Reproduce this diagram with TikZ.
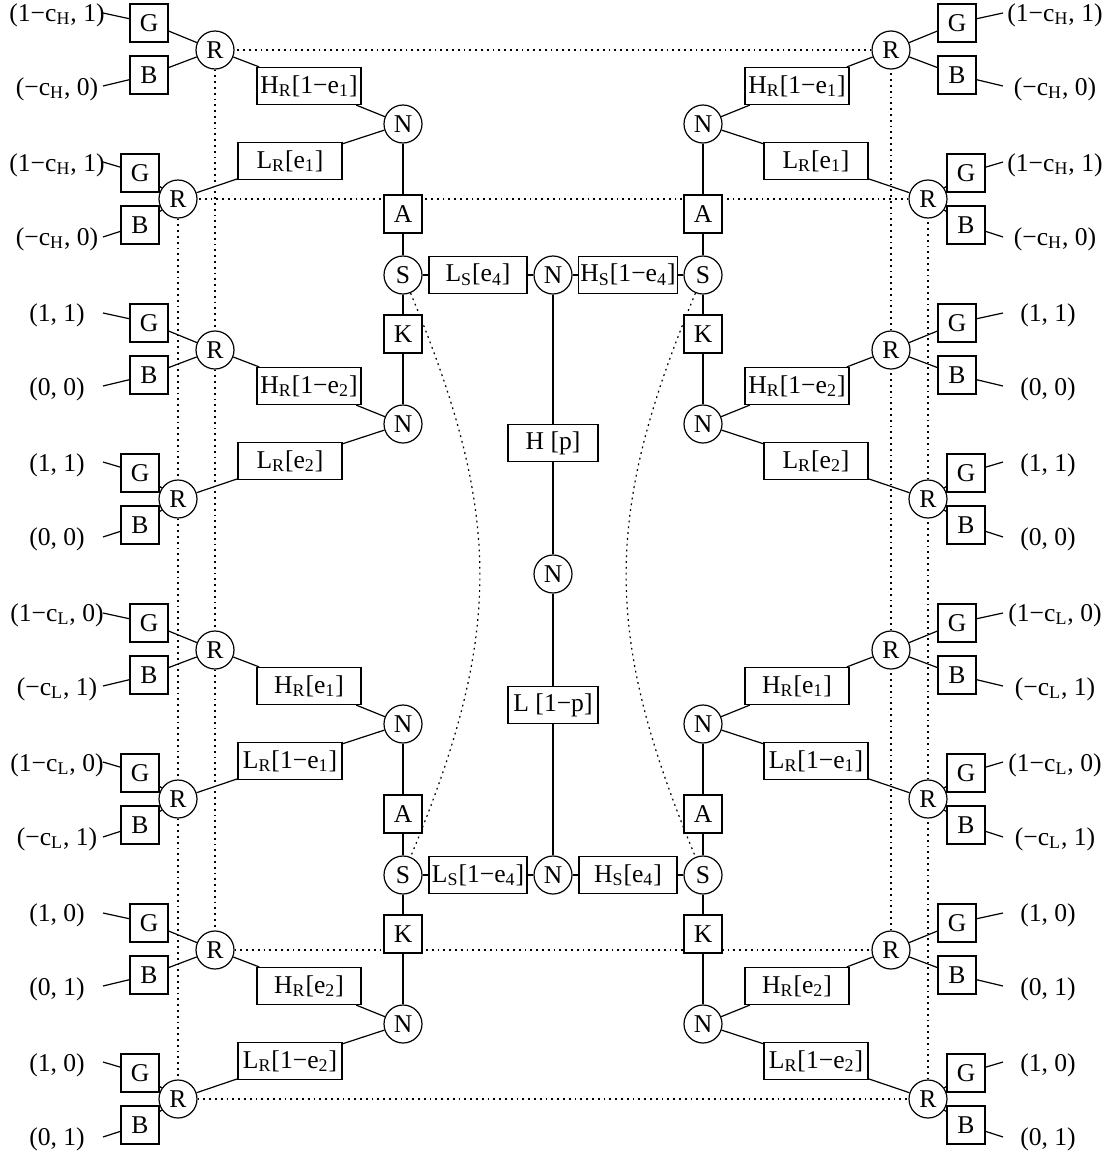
\documentclass[tikz,border=0pt]{standalone}
\usepackage{fontspec}
\setmainfont{Liberation Serif}
\usetikzlibrary{backgrounds}
\newcommand\sbs[1]{\textsubscript{#1}}
\tikzset{
 nd/.style={draw, line width=0.6pt, fill=white, inner sep=1pt, font=\fontsize{12.8}{15}\selectfont},
 rc/.style={nd, circle, minimum size=19pt},
 sq/.style={nd, rectangle, minimum width=19pt, minimum height=19pt},
 wideR/.style={nd, rectangle, minimum width=52pt, minimum height=18.5pt},
 wideS/.style={nd, rectangle, minimum width=49pt, minimum height=18.5pt},
 wideC/.style={nd, rectangle, minimum width=45pt, minimum height=18.5pt},
 lab/.style={inner sep=0pt, font=\fontsize{12.8}{15}\selectfont, anchor=base},
 conn/.style={line width=0.6pt},
 dotln/.style={dash pattern=on 0.9pt off 2pt, line width=0.6pt},
}
% #1 prefix, #2 offset, #3 direction, #4 y0, #5 G label, #6 B label, #7 H box, #8 L box, #9 label x
\newcommand\sidegroup[9]{%
 \node[rc] (#1R1) at ({#2+#3*215},{#4}) {R};
 \node[sq] (#1G1) at ({#2+#3*149},{#4-27}) {G};
 \node[sq] (#1B1) at ({#2+#3*149},{#4+25}) {B};
 \node[wideR] (#1H) at ({#2+#3*309},{#4+36}) {#7};
 \node[rc] (#1N) at ({#2+#3*403},{#4+74}) {N};
 \node[wideR] (#1L) at ({#2+#3*290},{#4+111}) {#8};
 \node[rc] (#1R2) at ({#2+#3*178},{#4+149}) {R};
 \node[sq] (#1G2) at ({#2+#3*140},{#4+123}) {G};
 \node[sq] (#1B2) at ({#2+#3*140},{#4+175}) {B};
 \node[lab] (#1t1) at (#9,{#4-29}) {#5};
 \node[lab] (#1t2) at (#9,{#4+45}) {#6};
 \node[lab] (#1t3) at (#9,{#4+121}) {#5};
 \node[lab] (#1t4) at (#9,{#4+195}) {#6};
 \coordinate (#1a1) at ({#2+#3*103},{#4-37});
 \coordinate (#1a2) at ({#2+#3*103},{#4+36});
 \coordinate (#1a3) at ({#2+#3*103},{#4+112});
 \coordinate (#1a4) at ({#2+#3*103},{#4+187});
 \draw[conn] (#1a1) -- (#1G1) -- (#1R1) -- (#1B1) -- (#1a2);
 \draw[conn] (#1R1) -- (#1H) -- (#1N) -- (#1L) -- (#1R2);
 \draw[conn] (#1a3) -- (#1G2) -- (#1R2) -- (#1B2) -- (#1a4);
}
\begin{document}
\begin{tikzpicture}[x=0.5pt,y=-0.5pt]
\useasboundingbox (0,0) rectangle (1113,1157);
% left groups
\sidegroup{la}{0}{1}{50}{(1−c\sbs{H}, 1)}{(−c\sbs{H}, 0)}{H\sbs{R}[1−e\sbs{1}]}{L\sbs{R}[e\sbs{1}]}{57}
\sidegroup{lb}{0}{1}{350}{(1, 1)}{(0, 0)}{H\sbs{R}[1−e\sbs{2}]}{L\sbs{R}[e\sbs{2}]}{57}
\sidegroup{lc}{0}{1}{650}{(1−c\sbs{L}, 0)}{(−c\sbs{L}, 1)}{H\sbs{R}[e\sbs{1}]}{L\sbs{R}[1−e\sbs{1}]}{57}
\sidegroup{ld}{0}{1}{950}{(1, 0)}{(0, 1)}{H\sbs{R}[e\sbs{2}]}{L\sbs{R}[1−e\sbs{2}]}{57}
% right groups
\sidegroup{ra}{1106}{-1}{50}{(1−c\sbs{H}, 1)}{(−c\sbs{H}, 0)}{H\sbs{R}[1−e\sbs{1}]}{L\sbs{R}[e\sbs{1}]}{1055}
\sidegroup{rb}{1106}{-1}{350}{(1, 1)}{(0, 0)}{H\sbs{R}[1−e\sbs{2}]}{L\sbs{R}[e\sbs{2}]}{1048}
\sidegroup{rc}{1106}{-1}{650}{(1−c\sbs{L}, 0)}{(−c\sbs{L}, 1)}{H\sbs{R}[e\sbs{1}]}{L\sbs{R}[1−e\sbs{1}]}{1055}
\sidegroup{rd}{1106}{-1}{950}{(1, 0)}{(0, 1)}{H\sbs{R}[e\sbs{2}]}{L\sbs{R}[1−e\sbs{2}]}{1048}
% central upper
\node[sq] (A1l) at (403,214) {A};
\node[rc] (S1l) at (403,275) {S};
\node[sq] (K1l) at (403,334) {K};
\node[sq] (A1r) at (703,214) {A};
\node[rc] (S1r) at (703,275) {S};
\node[sq] (K1r) at (703,334) {K};
\node[wideS] (LS1) at (478,275) {L\sbs{S}[e\sbs{4}]};
\node[rc] (N1) at (553,275) {N};
\node[wideS] (HS1) at (628,275) {H\sbs{S}[1−e\sbs{4}]};
\node[wideC] (Hp) at (553,443) {H [p]};
\node[rc] (N2) at (553,574) {N};
\node[wideC] (Lp) at (553,705) {L [1−p]};
% central lower
\node[sq] (A2l) at (403,814) {A};
\node[rc] (S2l) at (403,875) {S};
\node[sq] (K2l) at (403,934) {K};
\node[sq] (A2r) at (703,814) {A};
\node[rc] (S2r) at (703,875) {S};
\node[sq] (K2r) at (703,934) {K};
\node[wideS] (LS2) at (478,875) {L\sbs{S}[1−e\sbs{4}]};
\node[rc] (N3) at (553,875) {N};
\node[wideS] (HS2) at (628,875) {H\sbs{S}[e\sbs{4}]};
% solid connectors
\draw[conn] (laN) -- (A1l) -- (S1l) -- (K1l) -- (lbN);
\draw[conn] (raN) -- (A1r) -- (S1r) -- (K1r) -- (rbN);
\draw[conn] (S1l) -- (LS1) -- (N1) -- (HS1) -- (S1r);
\draw[conn] (N1) -- (Hp) -- (N2) -- (Lp) -- (N3);
\draw[conn] (lcN) -- (A2l) -- (S2l) -- (K2l) -- (ldN);
\draw[conn] (rcN) -- (A2r) -- (S2r) -- (K2r) -- (rdN);
\draw[conn] (S2l) -- (LS2) -- (N3) -- (HS2) -- (S2r);
% dotted
\begin{pgfonlayer}{background}
\draw[dotln] (laR1) -- (lbR1) -- (lcR1) -- (ldR1) -- (rdR1) -- (rcR1) -- (rbR1) -- (raR1) -- (laR1);
\draw[dotln] (laR2) -- (lbR2) -- (lcR2) -- (ldR2) -- (rdR2) -- (rcR2) -- (rbR2) -- (raR2) -- (laR2);
\draw[dotln] (S1l) .. controls +(100,240) and +(100,-240) .. (S2l);
\draw[dotln] (S1r) .. controls +(-100,240) and +(-100,-240) .. (S2r);
\end{pgfonlayer}
\end{tikzpicture}
\end{document}
